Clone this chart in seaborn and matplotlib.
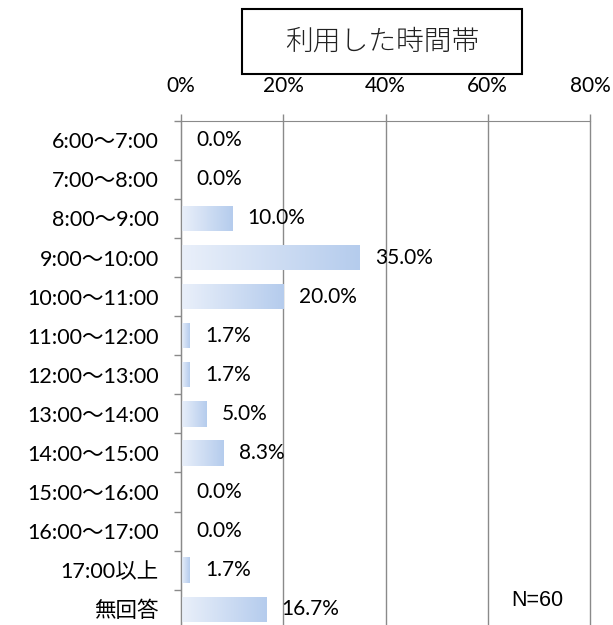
import numpy as np
import pandas as pd
import matplotlib
matplotlib.use("Agg")
import matplotlib.pyplot as plt
import seaborn as sns
from matplotlib.colors import LinearSegmentedColormap
from matplotlib.patches import Rectangle

# data
categories = ["6:00〜7:00", "7:00〜8:00", "8:00〜9:00", "9:00〜10:00", "10:00〜11:00",
              "11:00〜12:00", "12:00〜13:00", "13:00〜14:00", "14:00〜15:00",
              "15:00〜16:00", "16:00〜17:00", "17:00以上", "無回答"]
values = [0.0, 0.0, 10.0, 35.0, 20.0, 1.7, 1.7, 5.0, 8.3, 0.0, 0.0, 1.7, 16.7]
xticks = [0, 20, 40, 60, 80]
title = "利用した時間帯"
note = "N=60"

df = pd.DataFrame({"cat": categories, "val": values})

sns.set_style("white")
plt.rcParams["font.family"] = ["Lato", "Noto Sans CJK JP", "DejaVu Sans"]
GRAY = "#8a8a8a"

fig = plt.figure(figsize=(6.13, 6.25), dpi=100)
ax = fig.add_axes([0.2953, -0.006, 0.6672, 0.8128])

sns.barplot(data=df, x="val", y="cat", orient="h", width=0.65,
            color="#c6d8f1", ax=ax, edgecolor="none")

# gradient fill on each bar
cmap = LinearSegmentedColormap.from_list("g", ["#eaf0fa", "#b5cced"])
grad = np.linspace(0, 1, 256).reshape(1, -1)
for p in ax.patches:
    w = p.get_width()
    if w <= 0:
        continue
    x0, y0, h = p.get_x(), p.get_y(), p.get_height()
    im = ax.imshow(grad, cmap=cmap, aspect="auto", extent=[x0, x0 + w, y0 + h, y0],
                   zorder=p.get_zorder() + 0.1)
    im.set_clip_path(p)

ax.set_xlim(0, 80)
ax.set_ylim(len(categories) - 0.5, -0.5)

# value labels
for i, v in enumerate(values):
    ax.text(v + 3.0, i, f"{v:.1f}%", va="center", ha="left", fontsize=15, color="black")

ax.set_xticks(xticks)
ax.set_xticklabels([f"{t}%" for t in xticks], fontsize=15)
ax.xaxis.tick_top()
ax.tick_params(axis="x", length=5, color=GRAY, width=1, pad=13, labelcolor="black")
ax.grid(axis="x", color=GRAY, linewidth=1)
for gl in ax.get_xgridlines():
    gl.set_clip_on(False)
ax.set_axisbelow(True)

ax.set_yticks(range(len(categories)))
ax.set_yticklabels(categories, fontsize=15.5)
ax.set_yticks(np.arange(-0.5, len(categories)), minor=True)
ax.tick_params(axis="y", which="major", length=0, pad=16, labelcolor="black")
ax.tick_params(axis="y", which="minor", length=5, color=GRAY, width=1, left=True)
ax.set_xlabel("")
ax.set_ylabel("")

for s in ["right", "bottom"]:
    ax.spines[s].set_visible(False)
ax.spines["left"].set_color(GRAY)
ax.spines["top"].set_color(GRAY)

ax.text(69.6, 11.78, note, ha="center", va="center", fontsize=15.5,
        family=["Liberation Sans"], color="black")

# title box
fig.patches.append(Rectangle((242 / 613, 1 - 74 / 625), 280 / 613, 65 / 625,
                             transform=fig.transFigure, facecolor="white",
                             edgecolor="black", linewidth=1.5))
fig.text(382 / 613, 1 - 42 / 625, title, ha="center", va="center", fontsize=20,
         family=["Noto Sans CJK JP"], fontweight="light", color="#222222")

fig.savefig("out.png", dpi=100)
